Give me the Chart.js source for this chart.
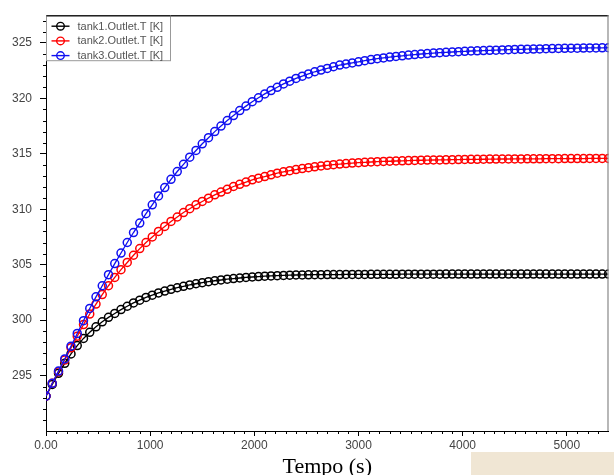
<!DOCTYPE html>
<html><head><meta charset="utf-8">
<script src="https://cdn.jsdelivr.net/npm/chart.js@4/dist/chart.umd.min.js"></script>
<style>html,body{margin:0;padding:0;background:#fff;}#wrap{position:relative;width:614px;height:475px;}</style>
</head><body><div id="wrap"><canvas id="c" width="614" height="475"></canvas></div>
<script>
const times = [0,60,120,180,240,300,360,420,480,540,600,660,720,780,840,900,960,1020,1080,1140,1200,1260,1320,1380,1440,1500,1560,1620,1680,1740,1800,1860,1920,1980,2040,2100,2160,2220,2280,2340,2400,2460,2520,2580,2640,2700,2760,2820,2880,2940,3000,3060,3120,3180,3240,3300,3360,3420,3480,3540,3600,3660,3720,3780,3840,3900,3960,4020,4080,4140,4200,4260,4320,4380,4440,4500,4560,4620,4680,4740,4800,4860,4920,4980,5040,5100,5160,5220,5280,5340,5400];
const seriesLabels = ['tank1.Outlet.T [K]','tank2.Outlet.T [K]','tank3.Outlet.T [K]'];
const tank1 = [293.15,294.2,295.2,296.1,296.95,297.7,298.35,298.9,299.4,299.85,300.25,300.6,300.95,301.25,301.55,301.8,302.05,302.25,302.45,302.62,302.78,302.92,303.05,303.17,303.28,303.38,303.47,303.55,303.62,303.69,303.75,303.8,303.85,303.89,303.93,303.96,303.99,304.01,304.03,304.05,304.07,304.08,304.09,304.1,304.1,304.11,304.11,304.11,304.12,304.12,304.12,304.12,304.13,304.13,304.13,304.13,304.13,304.14,304.14,304.14,304.14,304.14,304.14,304.14,304.15,304.15,304.15,304.15,304.15,304.15,304.15,304.15,304.15,304.15,304.15,304.15,304.15,304.15,304.15,304.15,304.15,304.15,304.15,304.15,304.15,304.15,304.15,304.15,304.15,304.15,304.15];
const tank2 = [293.15,294.3,295.35,296.4,297.5,298.55,299.6,300.55,301.45,302.3,303.1,303.85,304.55,305.2,305.85,306.45,307.0,307.5,308.0,308.45,308.9,309.3,309.7,310.05,310.4,310.7,311.0,311.3,311.55,311.8,312.05,312.25,312.45,312.65,312.8,312.95,313.1,313.25,313.37,313.48,313.58,313.67,313.75,313.83,313.9,313.96,314.02,314.07,314.12,314.16,314.2,314.23,314.26,314.29,314.31,314.33,314.35,314.37,314.39,314.4,314.42,314.43,314.44,314.45,314.46,314.47,314.48,314.49,314.5,314.5,314.51,314.52,314.52,314.53,314.53,314.54,314.54,314.55,314.55,314.55,314.56,314.56,314.56,314.57,314.57,314.57,314.57,314.58,314.58,314.58,314.58];
const tank3 = [293.15,294.3,295.4,296.5,297.65,298.8,299.95,301.05,302.1,303.1,304.1,305.1,306.05,307.0,307.9,308.75,309.6,310.4,311.2,311.95,312.7,313.4,314.05,314.7,315.3,315.9,316.45,317.0,317.5,318.0,318.45,318.9,319.3,319.7,320.05,320.4,320.7,321.0,321.3,321.55,321.8,322.0,322.2,322.4,322.55,322.7,322.85,323.0,323.1,323.2,323.3,323.4,323.5,323.58,323.65,323.72,323.78,323.84,323.9,323.95,324.0,324.04,324.08,324.12,324.15,324.18,324.21,324.24,324.27,324.29,324.31,324.33,324.35,324.37,324.39,324.41,324.42,324.44,324.45,324.46,324.48,324.49,324.5,324.51,324.52,324.53,324.54,324.55,324.55,324.56,324.57];
const xTicks = [0,1000,2000,3000,4000,5000];
const yTicks = [295,300,305,310,315,320,325];
const xTitle = 'Tempo (s)';
const colors = ['#000000','#ff0000','#1010f0'];

const seriesValues = [tank1, tank2, tank3];
const datasets = seriesValues.map((vals, i) => ({
  label: seriesLabels[i],
  data: vals.map((v, j) => ({x: times[j], y: v})),
  borderColor: colors[i],
  borderWidth: 1.3,
  pointStyle: 'circle',
  pointRadius: 4,
  pointBorderWidth: 1.5,
  pointBorderColor: colors[i],
  pointBackgroundColor: 'rgba(0,0,0,0)',
  fill: false,
  tension: 0,
  order: 2 - i
}));

const minorTicks = {
  id: 'minorTicks',
  afterDraw(chart) {
    const ctx = chart.ctx, xs = chart.scales.x, ys = chart.scales.y, a = chart.chartArea;
    ctx.save();
    ctx.strokeStyle = '#000'; ctx.lineWidth = 1;
    ctx.beginPath();
    for (let v = 100; v < xs.max; v += 100) {
      if (v % 1000 === 0) continue;
      const px = Math.round(xs.getPixelForValue(v)) + 0.5;
      ctx.moveTo(px, a.bottom); ctx.lineTo(px, a.bottom + 3);
    }
    for (let v = 291; v < ys.max; v += 1) {
      if (v % 5 === 0) continue;
      const py = Math.round(ys.getPixelForValue(v)) + 0.5;
      ctx.moveTo(a.left - 3, py); ctx.lineTo(a.left, py);
    }
    ctx.stroke();
    ctx.beginPath();
    ctx.strokeStyle = '#222'; ctx.lineWidth = 1.6;
    ctx.moveTo(a.left, a.top + 0.5); ctx.lineTo(a.right, a.top + 0.5);
    ctx.stroke();
    ctx.beginPath();
    ctx.strokeStyle = '#888'; ctx.lineWidth = 1.2;
    ctx.moveTo(a.right - 0.5, a.top); ctx.lineTo(a.right - 0.5, a.bottom);
    ctx.stroke();
    ctx.restore();
  }
};

const boxLegend = {
  id: 'boxLegend',
  afterDraw(chart) {
    const ctx = chart.ctx, a = chart.chartArea;
    const x0 = a.left + 0.5, y0 = a.top + 0.5, w = 124, h = 45;
    ctx.save();
    ctx.fillStyle = '#fff';
    ctx.fillRect(x0, y0, w, h);
    ctx.strokeStyle = '#999'; ctx.lineWidth = 1;
    ctx.strokeRect(x0, y0, w, h);
    ctx.strokeStyle = '#222'; ctx.lineWidth = 1.6;
    ctx.beginPath(); ctx.moveTo(x0, y0); ctx.lineTo(x0 + w, y0); ctx.stroke();
    chart.data.datasets.forEach((ds, i) => {
      const cy = y0 + 10.5 + i * 14.7;
      ctx.strokeStyle = ds.borderColor; ctx.lineWidth = 1.4;
      ctx.beginPath(); ctx.moveTo(x0 + 5, cy); ctx.lineTo(x0 + 23, cy); ctx.stroke();
      ctx.beginPath(); ctx.arc(x0 + 14, cy, 3.8, 0, Math.PI * 2); ctx.stroke();
      ctx.fillStyle = '#555';
      ctx.font = '11px "Liberation Sans", Arial, sans-serif';
      ctx.textBaseline = 'middle'; ctx.textAlign = 'left';
      ctx.fillText(ds.label, x0 + 31, cy + 0.5);
    });
    ctx.fillStyle = 'rgba(226,206,170,0.5)';
    ctx.fillRect(471, 452, 143, 23);
    ctx.restore();
  }
};

new Chart(document.getElementById('c'), {
  type: 'line',
  data: { datasets },
  plugins: [minorTicks, boxLegend],
  options: {
    responsive: false,
    animation: false,
    devicePixelRatio: 1,
    layout: { padding: { top: 14, right: 3, left: 0, bottom: 0 } },
    plugins: { legend: { display: false }, tooltip: { enabled: false } },
    scales: {
      x: {
        type: 'linear', min: 0, max: 5400,
        afterBuildTicks: s => { s.ticks = xTicks.map(v => ({ value: v })); },
        afterFit: s => { s.height = 44; },
        ticks: {
          includeBounds: false, padding: 2, maxRotation: 0, color: '#444',
          font: { family: '"Liberation Sans", Arial, sans-serif', size: 12 },
          callback: v => (v === 0 ? '0.00' : String(v))
        },
        grid: { drawOnChartArea: false, drawTicks: true, tickLength: 5, tickColor: '#000', color: '#000' },
        border: { display: true, color: '#000', width: 1 },
        title: {
          display: true, text: xTitle, color: '#000',
          font: { family: '"Liberation Serif", "Times New Roman", serif', size: 22, lineHeight: 0.75 },
          padding: { top: 0, bottom: 0 }
        }
      },
      y: {
        type: 'linear', min: 290, max: 327.5,
        afterBuildTicks: s => { s.ticks = yTicks.map(v => ({ value: v })); },
        afterFit: s => { s.width = 46; },
        ticks: {
          includeBounds: false, padding: 8, color: '#444',
          font: { family: '"Liberation Sans", Arial, sans-serif', size: 12 }
        },
        grid: { drawOnChartArea: false, drawTicks: true, tickLength: 6, tickColor: '#000', color: '#000' },
        border: { display: true, color: '#000', width: 1 }
      }
    }
  }
});
</script>
</body></html>
